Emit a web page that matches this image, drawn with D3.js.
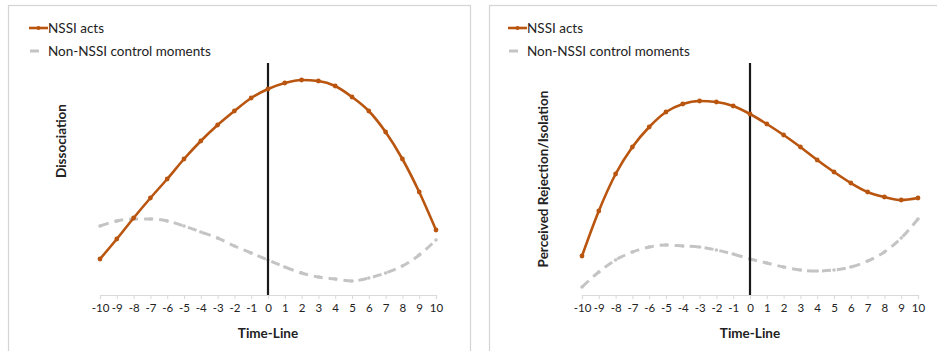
<!DOCTYPE html>
<html>
<head>
<meta charset="utf-8">
<script src="https://cdn.jsdelivr.net/npm/d3@7"></script>
<style>
  body { margin: 0; background: #fff; }
  svg { display: block; font-family: Lato, "Open Sans", sans-serif; }
</style>
</head>
<body>
<script>
// time points -10 .. 10
const timeLine = [-10,-9,-8,-7,-6,-5,-4,-3,-2,-1,0,1,2,3,4,5,6,7,8,9,10];
const tickLabels = timeLine.map(String);

// Dissociation panel (arbitrary units, no y scale shown)
const dissocNSSI = [36,56,77,97,116,136,154,170,184,197,206,212,215,214,209,198,184,163,136,103,65];
const dissocControl = [69,74,76,76,74,69,63,57,49,42,35,28,22,18,16,14,17,22,29,40,55];

// Perceived rejection/isolation panel
const rejectNSSI = [39,84,121,148,168,183,191,194,193,189,181,171,160,148,135,123,112,103,98,95,97];
const rejectControl = [8,23,35,43,48,50,49,48,45,41,36,32,28,25,24,25,28,34,43,57,76];

const seriesNames = ["NSSI acts", "Non-NSSI control moments"];

const width = 937, height = 351;
const nssiColor = "#b9550f";
const ctrlColor = "#c4c4c4";

let svg = d3.select("body").append("svg")
    .attr("width", width)
    .attr("height", height);

function drawPanel(p) {
    let g = svg.append("g");

    // panel frame
    g.append("rect")
        .attr("x", p.box[0] + 0.5)
        .attr("y", 5.5)
        .attr("width", p.box[1] - p.box[0])
        .attr("height", 360)
        .attr("fill", "#fff")
        .attr("stroke", "#d4d4d4")
        .attr("stroke-width", 1.2);

    let xScale = d3.scaleLinear()
        .domain([-10, 10])
        .range([p.left, p.right]);

    let yScale = d3.scaleLinear()
        .domain([0, 232])
        .range([295, 63]);

    // x axis
    let xAxis = g.append("g")
        .attr("transform", `translate(0,${yScale(0)})`)
        .call(d3.axisBottom(xScale)
            .tickValues(timeLine)
            .tickFormat((d, i) => tickLabels[i])
            .tickSize(4)
            .tickPadding(5));
    xAxis.select(".domain").attr("stroke", "#d9d9d9").attr("stroke-width", 1.2);
    xAxis.selectAll(".tick line").attr("stroke", "#d9d9d9");
    xAxis.selectAll(".tick text")
        .attr("fill", "#222")
        .style("font-size", "11.5px")
        .style("font-family", "Lato, sans-serif");

    // axis titles
    g.append("text")
        .attr("x", xScale(0))
        .attr("y", 338)
        .attr("text-anchor", "middle")
        .style("font-size", "13.5px")
        .style("font-weight", "bold")
        .attr("fill", "#222")
        .text("Time-Line");

    g.append("text")
        .attr("transform", `translate(${p.yTitleX},${p.yTitleY}) rotate(-90)`)
        .attr("text-anchor", "middle")
        .style("font-size", "13.5px")
        .style("font-weight", "bold")
        .attr("fill", "#222")
        .text(p.yTitle);

    let line = d3.line()
        .x((d, i) => xScale(timeLine[i]))
        .y(d => yScale(d))
        .curve(d3.curveMonotoneX);

    // control series (dashed gray)
    g.append("path")
        .datum(p.control)
        .attr("fill", "none")
        .attr("stroke", ctrlColor)
        .attr("stroke-width", 3)
        .attr("stroke-dasharray", "9,6")
        .attr("d", line);
    g.selectAll(".cdot")
        .data(p.control)
        .enter().append("circle")
        .attr("cx", (d, i) => xScale(timeLine[i]))
        .attr("cy", d => yScale(d))
        .attr("r", 1.8)
        .attr("fill", ctrlColor);

    // time zero marker
    g.append("line")
        .attr("x1", xScale(0)).attr("x2", xScale(0))
        .attr("y1", yScale(232)).attr("y2", yScale(0))
        .attr("stroke", "#1a1a1a")
        .attr("stroke-width", 2.2);

    // NSSI series
    g.append("path")
        .datum(p.nssi)
        .attr("fill", "none")
        .attr("stroke", nssiColor)
        .attr("stroke-width", 2.6)
        .attr("d", line);
    g.selectAll(".ndot")
        .data(p.nssi)
        .enter().append("circle")
        .attr("cx", (d, i) => xScale(timeLine[i]))
        .attr("cy", d => yScale(d))
        .attr("r", 2.4)
        .attr("fill", nssiColor);

    // legend
    let lx = p.legendX;
    g.append("line")
        .attr("x1", lx).attr("x2", lx + 19)
        .attr("y1", 28).attr("y2", 28)
        .attr("stroke", nssiColor).attr("stroke-width", 2.6);
    g.append("circle")
        .attr("cx", lx + 9.5).attr("cy", 28).attr("r", 2)
        .attr("fill", nssiColor);
    g.append("line")
        .attr("x1", lx + 1).attr("x2", lx + 10)
        .attr("y1", 51).attr("y2", 51)
        .attr("stroke", ctrlColor).attr("stroke-width", 3);

    g.selectAll(".legtext")
        .data(seriesNames)
        .enter().append("text")
        .attr("x", lx + 19)
        .attr("y", (d, i) => 28 + i * 23)
        .attr("dy", "0.35em")
        .style("font-size", "13.5px")
        .attr("fill", "#222")
        .text(d => d);
}

drawPanel({
    box: [8, 470], left: 100, right: 436,
    nssi: dissocNSSI, control: dissocControl,
    yTitle: "Dissociation", yTitleX: 66, yTitleY: 141,
    legendX: 29
});

drawPanel({
    box: [489, 940], left: 582, right: 918,
    nssi: rejectNSSI, control: rejectControl,
    yTitle: "Perceived Rejection/Isolation", yTitleX: 548, yTitleY: 179,
    legendX: 508
});
</script>
</body>
</html>
